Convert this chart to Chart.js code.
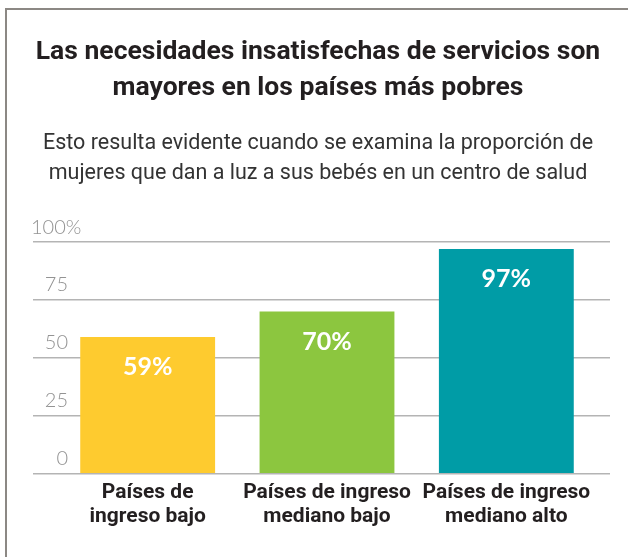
<!DOCTYPE html>
<html>
<head>
<meta charset="utf-8">
<script src="https://cdn.jsdelivr.net/npm/chart.js@4"></script>
<style>
  html, body { margin: 0; padding: 0; background: #fff; overflow: hidden; }
  #wrap { position: relative; width: 628px; height: 557px; }
  #frame {
    position: absolute; left: 5px; top: 8px; width: 700px; height: 700px;
    border-left: 2px solid #8c8884; border-top: 2px solid #8c8884;
    pointer-events: none;
  }
</style>
</head>
<body>
<div id="wrap">
  <canvas id="chart" width="628" height="557"></canvas>
  <div id="frame"></div>
</div>
<script>
const categories = [
  ["Países de", "ingreso bajo"],
  ["Países de ingreso", "mediano bajo"],
  ["Países de ingreso", "mediano alto"],
];
const values = [59, 70, 97];
const barColors = ["#fecb2f", "#8cc63f", "#009ca6"];
const yTicks = [0, 25, 50, 75, 100];

const gridColor = "#b4b4b4";

// white percentage label near the top of each bar
const barLabels = {
  id: "barLabels",
  afterDatasetsDraw(chart) {
    const ctx = chart.ctx;
    const meta = chart.getDatasetMeta(0);
    ctx.save();
    ctx.fillStyle = "#ffffff";
    ctx.font = "700 25px Lato";
    ctx.textAlign = "center";
    ctx.textBaseline = "middle";
    meta.data.forEach((bar, i) => {
      ctx.fillText(values[i] + "%", bar.x, bar.y + 30);
    });
    ctx.restore();
  },
};

const ctx = document.getElementById("chart").getContext("2d");
const chart = new Chart(ctx, {
  type: "bar",
  plugins: [barLabels],
  data: {
    labels: categories,
    datasets: [
      {
        data: values,
        backgroundColor: barColors,
        borderWidth: 0,
        barPercentage: 0.752,
        categoryPercentage: 1,
      },
    ],
  },
  options: {
    responsive: false,
    animation: false,
    devicePixelRatio: 1,
    layout: { padding: { left: 8, right: 0, top: 0, bottom: 21 } },
    plugins: {
      legend: { display: false },
      tooltip: { enabled: false },
      title: {
        display: true,
        text: [
          "Las necesidades insatisfechas de servicios son",
          "mayores en los países más pobres",
        ],
        color: "#231f20",
        font: { family: "Roboto", size: 26.5, weight: "700", lineHeight: 1.36 },
        padding: { top: 34, bottom: 19 },
      },
      subtitle: {
        display: true,
        text: [
          "Esto resulta evidente cuando se examina la proporción de",
          "mujeres que dan a luz a sus bebés en un centro de salud",
        ],
        color: "#333333",
        font: { family: "Roboto", size: 21.5, weight: "400", lineHeight: 1.42 },
        padding: { top: 3, bottom: 53 },
      },
    },
    scales: {
      x: {
        grid: { display: false, drawTicks: false },
        border: { display: false },
        ticks: {
          color: "#231f20",
          font: { family: "Roboto", size: 21, weight: "700", lineHeight: 1.15 },
          padding: 7,
          maxRotation: 0,
          autoSkip: false,
        },
      },
      y: {
        position: "left",
        min: 0,
        max: 100,
        afterBuildTicks: (axis) => {
          axis.ticks = yTicks.map((v) => ({ value: v }));
        },
        afterFit: (axis) => {
          axis.width = 50;
        },
        border: { display: false },
        grid: { color: gridColor, lineWidth: 1.5, drawTicks: true, tickLength: 25 },
        ticks: {
          mirror: true,
          crossAlign: "far",
          padding: -27,
          labelOffset: -15,
          color: "#939393",
          font: { family: "Lato", size: 20, weight: "300" },
          callback: (v) => (v === 100 ? "100%" : v + "  \u2009"),
        },
      },
      y2: {
        position: "right",
        min: 0,
        max: 100,
        afterBuildTicks: (axis) => {
          axis.ticks = yTicks.map((v) => ({ value: v }));
        },
        afterFit: (axis) => {
          axis.width = 32;
        },
        border: { display: false },
        grid: { color: gridColor, lineWidth: 1.5, drawOnChartArea: false, drawTicks: true, tickLength: 14 },
        ticks: { display: false },
      },
    },
  },
});
</script>
</body>
</html>
